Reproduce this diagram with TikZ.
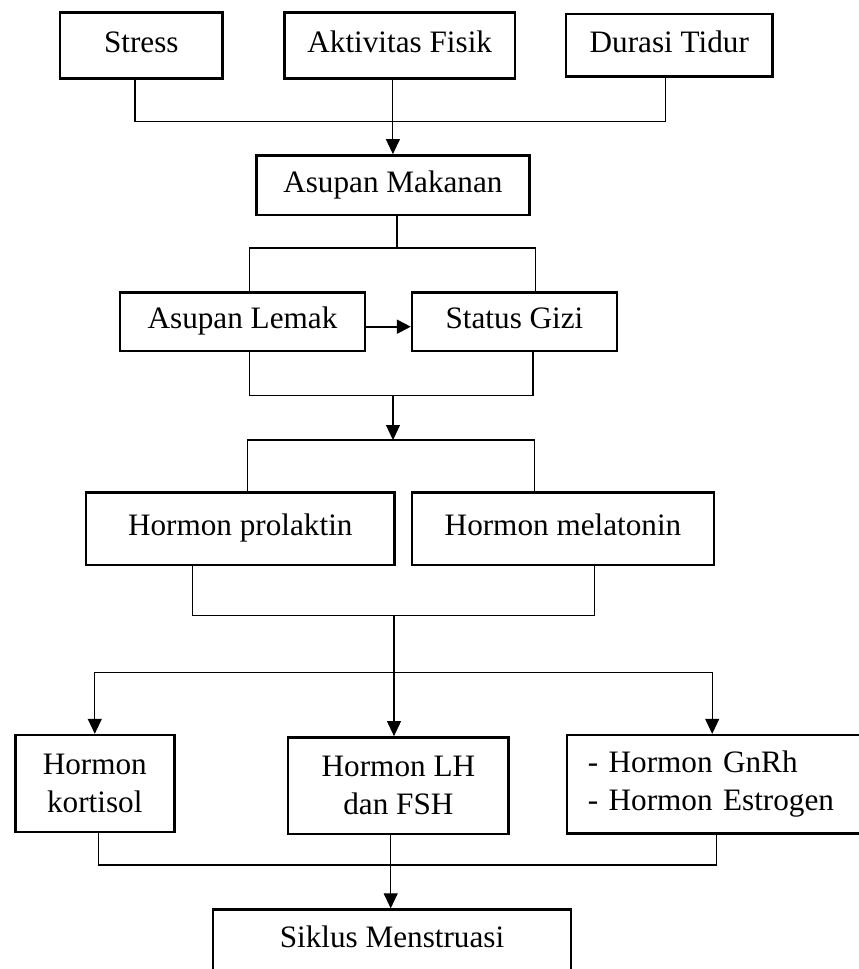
\documentclass[tikz,border=0pt]{standalone}
\usepackage{fontspec}
\setmainfont{Liberation Serif}
\usetikzlibrary{arrows.meta}

\tikzset{every picture/.style={line width=1.1pt}}
\tikzset{
    box/.style={draw, line width=2.4pt, inner sep=0pt, align=center, font=\fontsize{31.2}{38}\selectfont},
    onebox/.style={box, text height=21pt, text depth=7pt},
    link/.style={line width=1.1pt},
    arrow/.style={link, -{Triangle[length=15pt,width=14pt]}},
    thickarrow/.style={line width=2pt, -{Triangle[length=14pt,width=14pt]}}
}

\begin{document}
\begin{tikzpicture}[x=1pt, y=-1pt]
    \useasboundingbox (0,0) rectangle (859,969);
    \node[onebox, minimum width=162.5pt, minimum height=66pt] (stress) at (141.3,45.3) {Stress};
    \node[onebox, minimum width=230.6pt, minimum height=66pt] (aktivitas) at (399.7,45.3) {Aktivitas Fisik};
    \node[onebox, minimum width=206.6pt, minimum height=62.7pt] (durasi) at (669.3,45.3) {Durasi Tidur};
    \node[onebox, minimum width=273pt, minimum height=59.4pt] (makanan) at (392.9,185) {Asupan Makanan};
    \node[onebox, minimum width=245pt, minimum height=58.4pt] (lemak) at (242.5,321.5) {Asupan Lemak};
    \node[onebox, minimum width=205pt, minimum height=58.4pt] (gizi) at (514.5,321.5) {Status Gizi};
    \node[onebox, minimum width=308.5pt, minimum height=72.4pt] (prolaktin) at (240.3,528.5) {Hormon prolaktin};
    \node[onebox, minimum width=302pt, minimum height=72.4pt] (melatonin) at (563,528.5) {Hormon melatonin};
    \node[box, minimum width=159pt, minimum height=97pt] (kortisol) at (94.8,783.5) {Hormon\\kortisol};
    \node[box, minimum width=220.3pt, minimum height=96.4pt] (lhfsh) at (398.4,785.5) {Hormon LH\\dan FSH};
    \node[box, anchor=west, minimum width=304pt, minimum height=98.5pt, align=left, inner xsep=20.7pt, text width=262.6pt] (gnrh) at (566,784.3) {- Hormon GnRh\\- Hormon Estrogen};
    \node[onebox, minimum width=358pt, minimum height=62pt] (siklus) at (392,940.5) {Siklus Menstruasi};

    \coordinate (j1) at (392.9,121.7);
    \coordinate (j2) at (397,248);
    \coordinate (j3) at (393,395.7);
    \coordinate (j4) at (393,440);
    \coordinate (j5) at (394,615.7);
    \coordinate (j6) at (394,672.3);
    \coordinate (j7) at (390.7,865);

    \draw[link] ([xshift=-6.3pt]stress.south) |- (j1) -| ([xshift=-3.6pt]durasi.south);
    \draw[arrow] ([xshift=-6.8pt]aktivitas.south) -- (makanan.north);
    \draw[link] ([xshift=4.1pt]makanan.south) -- (j2);
    \draw[link] ([xshift=6.8pt]lemak.north) |- (j2) -| ([xshift=21.4pt]gizi.north);
    \draw[thickarrow] ([yshift=-5.2pt]lemak.east) -- ([yshift=-5.2pt]gizi.west);
    \draw[link] ([xshift=6.8pt]lemak.south) |- (j3) -| ([xshift=18.5pt]gizi.south);
    \draw[arrow] (j3) -- (j4);
    \draw[link] ([xshift=7.4pt]prolaktin.north) |- (j4) -| ([xshift=-28.8pt]melatonin.north);
    \draw[link] ([xshift=-47.4pt]prolaktin.south) |- (j5) -| ([xshift=31.5pt]melatonin.south);
    \draw[link] (j5) -- (j6);
    \draw[arrow] (j6) -| (kortisol.north);
    \draw[arrow] (j6) -- (j6 |- lhfsh.north);
    \draw[arrow] (j6) -| ([xshift=-7pt]gnrh.north);
    \draw[link] ([xshift=3.8pt]kortisol.south) |- (j7) -| ([xshift=-3pt]gnrh.south);
    \draw[arrow] ([xshift=-7.7pt]lhfsh.south) -- (j7 |- siklus.north);
\end{tikzpicture}
\end{document}
